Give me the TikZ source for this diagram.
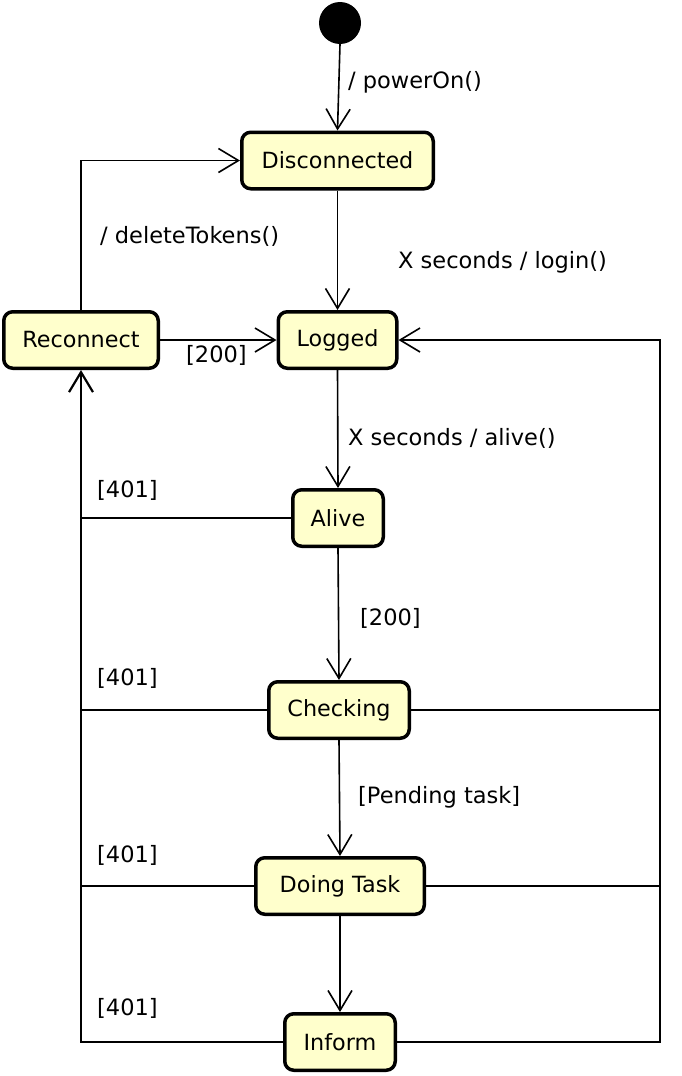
\documentclass[tikz,border=0pt]{standalone}
\usepackage{fontspec}
\setmainfont{DejaVu Sans}
\usetikzlibrary{arrows.meta}
\definecolor{statefill}{RGB}{255,255,204}
\tikzset{
  state/.style={draw=black, line width=3.5pt, fill=statefill, rounded corners=9pt,
    minimum height=56.5pt, inner sep=0pt, font=\fontsize{22.3}{26}\selectfont},
  lbl/.style={anchor=west, inner sep=0pt, font=\fontsize{22.5}{26}\selectfont},
  conn/.style={line width=1.6pt},
  arr/.style={conn, -{Straight Barb[length=20pt,width=24pt]}},
}
\begin{document}
\begin{tikzpicture}[x=1pt,y=-1pt]
\useasboundingbox (0,0) rectangle (682,1076);
\node[circle, fill=black, minimum size=42pt, inner sep=0pt] (init) at (340,23) {};
\node[state, minimum width=191.5pt] (disc) at (337.5,160.5) {Disconnected};
\node[state, minimum width=118.5pt] (logged) at (337.5,340) {Logged};
\node[state, minimum width=154.5pt] (reco) at (81,340) {Reconnect};
\node[state, minimum width=90.5pt] (alive) at (338,518) {Alive};
\node[state, minimum width=140.5pt] (check) at (339,710) {Checking};
\node[state, minimum width=168.5pt] (doing) at (340,886) {Doing Task};
\node[state, minimum width=110.5pt] (inform) at (340,1042) {Inform};
\coordinate (R) at (660,340);

\draw[arr] (init.south) -- (disc.north);
\draw[arr] (disc.south) -- (logged.north);
\draw[arr] (reco.east) -- (logged.west);
\draw[arr] (reco.north) |- (disc.west);
\draw[arr] (logged.south) -- (alive.north);
\draw[arr] (alive.south) -- (check.north);
\draw[arr] (check.south) -- (doing.north);
\draw[arr] (doing.south) -- (inform.north);

\draw[conn] (alive.west) -- (alive.west -| reco.south);
\draw[conn] (check.west) -- (check.west -| reco.south);
\draw[conn] (doing.west) -- (doing.west -| reco.south);
\draw[arr, line width=2.2pt] (inform.west) -| (reco.south);

\draw[conn] (check.east) -- (check.east -| R);
\draw[conn] (doing.east) -- (doing.east -| R);
\draw[arr] (inform.east) -| (R) -- (logged.east);

\node[lbl] (l1) at (348,82) {/ powerOn()};
\node[lbl] (l2) at (398,262) {X seconds / login()};
\node[lbl] (l3) at (100,236) {/ deleteTokens()};
\node[lbl] (l4) at (186,355) {[200]};
\node[lbl] (l5) at (348,438) {X seconds / alive()};
\node[lbl] (l6) at (360,618) {[200]};
\node[lbl] (l7) at (97,490) {[401]};
\node[lbl] (l8) at (97,678) {[401]};
\node[lbl] (l9) at (97,855) {[401]};
\node[lbl] (l10) at (97,1008) {[401]};
\node[lbl] (l11) at (358,797) {[Pending task]};
\end{tikzpicture}
\end{document}
